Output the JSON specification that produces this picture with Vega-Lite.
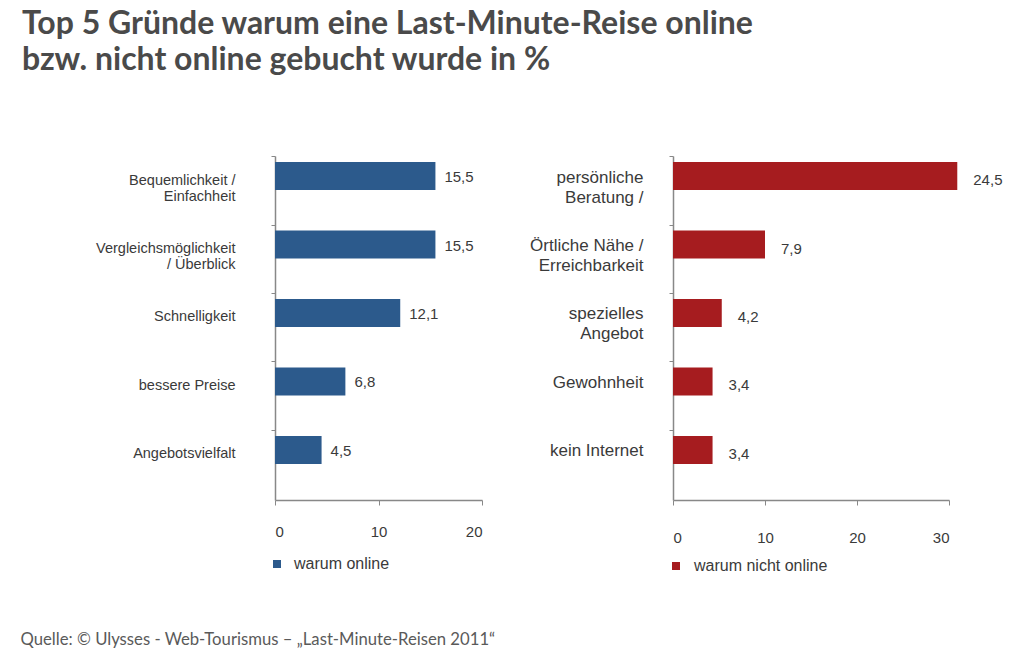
{
  "$schema": "https://vega.github.io/schema/vega-lite/v6.json",
  "background": "white",
  "padding": {"left": 20, "top": 7, "right": 10, "bottom": 6},
  "title": {
    "text": ["Top 5 Gründe warum eine Last-Minute-Reise online", "bzw. nicht online gebucht wurde in %"],
    "anchor": "start",
    "frame": "group",
    "dx": -253,
    "offset": 79,
    "font": "Lato",
    "fontSize": 32,
    "fontWeight": "bold",
    "color": "#4a4a4a",
    "lineHeight": 36
  },
  "datasets": {
    "gruende": [
      {"gruppe": "warum online", "grund": "Bequemlichkeit /|Einfachheit", "wert": 15.5, "balken": 15.5},
      {"gruppe": "warum online", "grund": "Vergleichsmöglichkeit|/ Überblick", "wert": 15.5, "balken": 15.5},
      {"gruppe": "warum online", "grund": "Schnelligkeit", "wert": 12.1, "balken": 12.1},
      {"gruppe": "warum online", "grund": "bessere Preise", "wert": 6.8, "balken": 6.8},
      {"gruppe": "warum online", "grund": "Angebotsvielfalt", "wert": 4.5, "balken": 4.5},
      {"gruppe": "warum nicht online", "grund": "persönliche|Beratung /", "wert": 24.5, "balken": 30.9},
      {"gruppe": "warum nicht online", "grund": "Örtliche Nähe /|Erreichbarkeit", "wert": 7.9, "balken": 10.0},
      {"gruppe": "warum nicht online", "grund": "spezielles|Angebot", "wert": 4.2, "balken": 5.3},
      {"gruppe": "warum nicht online", "grund": "Gewohnheit", "wert": 3.4, "balken": 4.3},
      {"gruppe": "warum nicht online", "grund": "kein Internet", "wert": 3.4, "balken": 4.3}
    ]
  },
  "data": {"name": "gruende"},
  "bounds": "flush",
  "spacing": 191,
  "resolve": {"scale": {"color": "independent", "x": "independent", "y": "independent"}, "legend": {"color": "independent"}, "axis": {"x": "independent", "y": "independent"}},
  "hconcat": [
    {
      "width": 207,
      "height": 344,
      "transform": [{"filter": "datum.gruppe === 'warum online'"}],
      "encoding": {
        "y": {
          "field": "grund", "type": "nominal", "sort": null,
          "scale": {"paddingInner": 0.591, "paddingOuter": 0.307, "align": 0.143},
          "axis": {
            "title": null,
            "labelExpr": "split(datum.label, '|')",
            "labelLineHeight": 16,
            "labelFontSize": 14.5,
            "labelColor": "#3a3a3a",
            "labelPadding": 36,
            "labelAlign": "right",
            "bandPosition": 0.5,
            "tickOffset": -20,
            "labelOffset": 24,
            "tickSize": 4,
            "tickColor": "#888",
            "domainColor": "#888",
            "domainWidth": 1.5
          }
        }
      },
      "layer": [
        {
          "mark": {"type": "bar"},
          "encoding": {
            "x": {
              "field": "balken", "type": "quantitative",
              "scale": {"domain": [0, 20]},
              "axis": {
                "values": [0, 10, 20],
                "grid": false,
                "format": "d",
                "labelFontSize": 15,
                "labelColor": "#3a3a3a",
                "labelPadding": 19,
                "tickSize": 5,
                "tickColor": "#888",
                "domainColor": "#888",
                "domainWidth": 1.5,
                "title": "Quelle: © Ulysses - Web-Tourismus – „Last-Minute-Reisen 2011“",
                "titleX": -255,
                "titleY": 139,
                "titleAlign": "left",
                "titleBaseline": "middle",
                "titleFont": "Lato",
                "titleFontSize": 16.7,
                "titleFontWeight": "normal",
                "titleColor": "#5a5a5a"
              }
            },
            "color": {
              "field": "gruppe", "type": "nominal",
              "scale": {"range": ["#2c5a8c"]},
              "legend": {
                "orient": "none", "legendX": -6, "legendY": 400,
                "title": null, "symbolType": "square", "symbolSize": 64,
                "labelFontSize": 16, "labelColor": "#3a3a3a", "labelOffset": 9
              }
            }
          }
        },
        {
          "mark": {"type": "text", "align": "left", "baseline": "middle", "dx": 9, "dy": 1, "fontSize": 15, "color": "#3a3a3a"},
          "encoding": {
            "x": {"field": "balken", "type": "quantitative"},
            "text": {"field": "wert", "type": "quantitative", "format": ".1f"}
          }
        }
      ]
    },
    {
      "width": 276,
      "height": 344,
      "transform": [{"filter": "datum.gruppe === 'warum nicht online'"}],
      "encoding": {
        "y": {
          "field": "grund", "type": "nominal", "sort": null,
          "scale": {"paddingInner": 0.591, "paddingOuter": 0.307, "align": 0.143},
          "axis": {
            "title": null,
            "labelExpr": "split(datum.label, '|')",
            "labelLineHeight": 20,
            "labelFontSize": 17,
            "labelColor": "#3a3a3a",
            "labelPadding": 26,
            "labelAlign": "right",
            "bandPosition": 0.5,
            "tickOffset": -20,
            "labelOffset": 21,
            "tickSize": 4,
            "tickColor": "#888",
            "domainColor": "#888",
            "domainWidth": 1.5
          }
        }
      },
      "layer": [
        {
          "mark": {"type": "bar"},
          "encoding": {
            "x": {
              "field": "balken", "type": "quantitative",
              "scale": {"domain": [0, 30]},
              "axis": {
                "values": [0, 10, 20, 30],
                "grid": false,
                "format": "d",
                "title": null,
                "labelFontSize": 15,
                "labelColor": "#3a3a3a",
                "labelPadding": 25,
                "tickSize": 5,
                "tickColor": "#888",
                "domainColor": "#888",
                "domainWidth": 1.5
              }
            },
            "color": {
              "field": "gruppe", "type": "nominal",
              "scale": {"range": ["#a61c1f"]},
              "legend": {
                "orient": "none", "legendX": -5, "legendY": 402,
                "title": null, "symbolType": "square", "symbolSize": 64,
                "labelFontSize": 16, "labelColor": "#3a3a3a", "labelOffset": 10
              }
            }
          }
        },
        {
          "mark": {"type": "text", "align": "left", "baseline": "middle", "dx": 16, "dy": 4, "fontSize": 15, "color": "#3a3a3a"},
          "encoding": {
            "x": {"field": "balken", "type": "quantitative"},
            "text": {"field": "wert", "type": "quantitative", "format": ".1f"}
          }
        }
      ]
    }
  ],
  "config": {
    "view": {"stroke": null},
    "font": "Liberation Sans",
    "locale": {
      "number": {"decimal": ",", "thousands": ".", "grouping": [3], "currency": ["", " €"]}
    }
  }
}
